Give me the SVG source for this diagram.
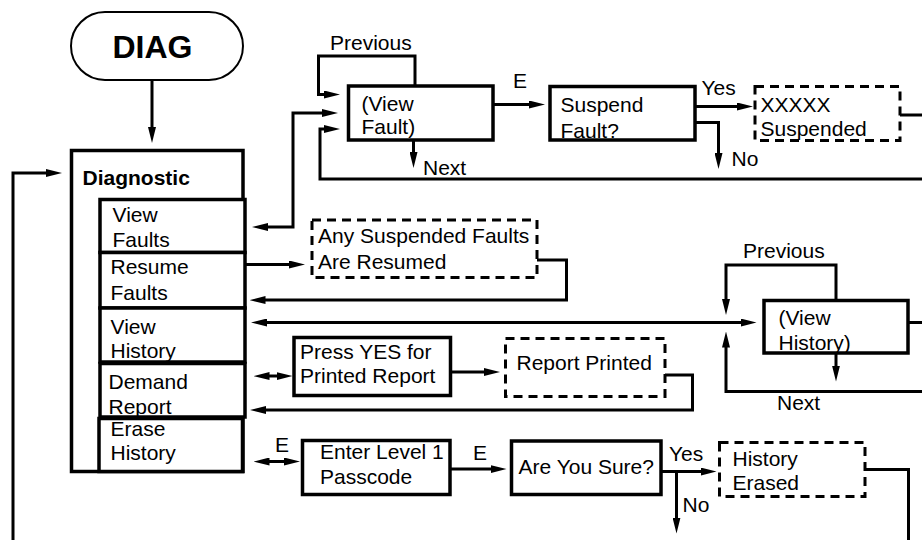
<svg xmlns="http://www.w3.org/2000/svg" width="922" height="540" viewBox="0 0 922 540">
<defs>
<style>
text{font-family:"Liberation Sans",Arial,sans-serif;font-size:21px;fill:#000}
.b{font-weight:bold}
.box{fill:#fff;stroke:#000;stroke-width:3.5}
.dash{fill:#fff;stroke:#000;stroke-width:3;stroke-dasharray:9 6}
.ln{fill:none;stroke:#000;stroke-width:3;stroke-linejoin:miter}
.ar{marker-end:url(#ah)}
.ar2{marker-start:url(#ah);marker-end:url(#ah)}
</style>
<marker id="ah" viewBox="0 0 16 8" markerWidth="16" markerHeight="8" refX="4" refY="4" orient="auto-start-reverse" markerUnits="userSpaceOnUse"><path d="M0,0 L16,4 L0,8 z" fill="#000"/></marker>
</defs>
<rect width="922" height="540" fill="#fff"/>

<g id="connectors">
<path class="ln ar" d="M152,80 V131"/>
<path class="ln ar" d="M13,540 V173 H50"/>
<path class="ln ar2" d="M264,227 H293 V113 H326"/>
<path class="ln ar" d="M415,86 V56 H318.5 V94.5 H328"/>
<path class="ln ar" d="M922,179 H320 V129 H328"/>
<path class="ln" d="M900,115 H922"/>
<path class="ln ar" d="M413.5,140 V156"/>
<path class="ln ar" d="M493,104.5 H533"/>
<path class="ln ar" d="M695,106.5 H741"/>
<path class="ln ar" d="M695,122.5 H718.5 V157"/>
<path class="ln ar" d="M245,264.5 H293"/>
<path class="ln ar" d="M537,260 H566.5 V300 H261.5"/>
<path class="ln ar2" d="M263,322.5 H744.5"/>
<path class="ln" d="M908,322.5 H922"/>
<path class="ln ar" d="M836,300.5 V265 H726 V303"/>
<path class="ln ar" d="M836,353 V369.5"/>
<path class="ln ar" d="M922,391.5 H726 V343.5"/>
<path class="ln ar2" d="M265.5,376 H280.5"/>
<path class="ln ar" d="M450.5,372 H488"/>
<path class="ln ar" d="M665,375 H692.5 V410 H262"/>
<path class="ln ar2" d="M265.5,461.5 H288"/>
<path class="ln ar" d="M450,469 H494.5"/>
<path class="ln ar" d="M661,471.5 H704.5"/>
<path class="ln ar" d="M676.5,471.5 V521.5"/>
<path class="ln" d="M865,469.5 H908.5 V540"/>
<text x="330" y="50">Previous</text>
<text x="423" y="175">Next</text>
<text x="513" y="88">E</text>
<text x="701.5" y="95">Yes</text>
<text x="731.5" y="165.5">No</text>
<text x="743" y="258">Previous</text>
<text x="777" y="410">Next</text>
<text x="275" y="451.5">E</text>
<text x="473" y="460">E</text>
<text x="669" y="460.5">Yes</text>
<text x="682.5" y="511.5">No</text>
</g>

<g id="diag">
<rect x="71" y="12" width="172" height="68" rx="34" fill="#fff" stroke="#000" stroke-width="2"/>
<text class="b" x="152.5" y="58" text-anchor="middle" style="font-size:32px">DIAG</text>
</g>

<g id="diagnostic">
<rect class="box" x="71.5" y="150.5" width="171.5" height="321"/>
<text class="b" x="82.5" y="184.5">Diagnostic</text>
</g>

<g id="view-faults">
<rect class="box" x="100" y="199.5" width="145" height="53"/>
<text x="112.5" y="221.5">View</text>
<text x="112.5" y="246.5">Faults</text>
</g>

<g id="resume-faults">
<rect class="box" x="100" y="252.5" width="145" height="55.5"/>
<text x="110.5" y="274">Resume</text>
<text x="110.5" y="299.5">Faults</text>
</g>

<g id="view-history">
<rect class="box" x="100" y="308" width="145" height="54"/>
<text x="110.5" y="333.5">View</text>
<text x="110.5" y="357.5">History</text>
</g>

<g id="demand-report">
<rect class="box" x="100" y="363.5" width="145" height="53.5"/>
<text x="108.5" y="389">Demand</text>
<text x="108.5" y="413.5">Report</text>
</g>

<g id="erase-history">
<rect class="box" x="99" y="418.5" width="143.5" height="53"/>
<text x="110.5" y="436">Erase</text>
<text x="110.5" y="460">History</text>
</g>

<g id="view-fault">
<rect class="box" x="348.5" y="86" width="144.5" height="54"/>
<text x="361.5" y="111">(View</text>
<text x="361.5" y="133.5">Fault)</text>
</g>

<g id="suspend-fault">
<rect class="box" x="550" y="86.5" width="145" height="53.5"/>
<text x="560.5" y="111.5">Suspend</text>
<text x="560.5" y="138">Fault?</text>
</g>

<g id="xxxxx-suspended">
<rect class="dash" x="755" y="86.5" width="145" height="54"/>
<text x="760.5" y="111.5">XXXXX</text>
<text x="760.5" y="135.5">Suspended</text>
</g>

<g id="faults-resumed">
<rect class="dash" x="312" y="220" width="225" height="57.5"/>
<text x="318" y="242.5">Any Suspended Faults</text>
<text x="318" y="268.5">Are Resumed</text>
</g>

<g id="view-history-screen">
<rect class="box" x="764" y="300.5" width="144" height="52.5"/>
<text x="778.5" y="325">(View</text>
<text x="778.5" y="349.5">History)</text>
</g>

<g id="press-yes">
<rect class="box" x="294" y="337.5" width="156.5" height="58"/>
<text x="300" y="358.5">Press YES for</text>
<text x="300" y="382.5">Printed Report</text>
</g>

<g id="report-printed">
<rect class="dash" x="505.5" y="338.5" width="159.5" height="58"/>
<text x="516.5" y="370">Report Printed</text>
</g>

<g id="enter-passcode">
<rect class="box" x="302.5" y="440.5" width="147.5" height="54"/>
<text x="320" y="458.5">Enter Level 1</text>
<text x="320" y="483.5">Passcode</text>
</g>

<g id="are-you-sure">
<rect class="box" x="511.5" y="441" width="149.5" height="53.5"/>
<text x="518.5" y="474">Are You Sure?</text>
</g>

<g id="history-erased">
<rect class="dash" x="719.5" y="442.5" width="145.5" height="54"/>
<text x="732.5" y="466">History</text>
<text x="732.5" y="490">Erased</text>
</g>
</svg>
